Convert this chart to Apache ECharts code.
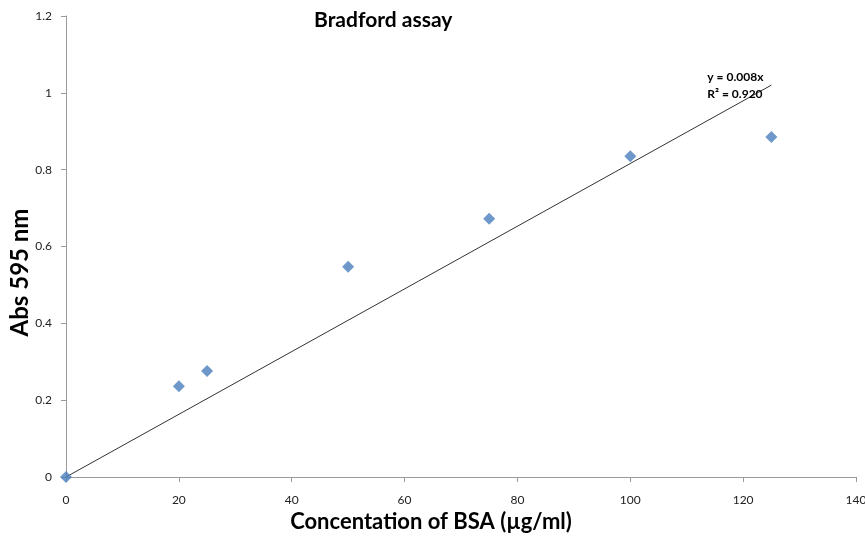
<!DOCTYPE html>
<html>
	<head>
		<meta charset="utf-8" />
		<script type="text/javascript" src="https://cdn.jsdelivr.net/npm/echarts@6/dist/echarts.min.js"></script>
		<title>Bradford assay</title>
	</head>
	<body style="margin:0">
		<div id="chartmain" style="width:865px; height:537px;"></div>
		<script type="text/javascript">
var concentration = [0, 20, 25, 50, 75, 100, 125];
var absorbance = [0, 0.236, 0.276, 0.547, 0.672, 0.835, 0.885];
// linear trendline through origin, drawn over the data range
var trendX = [0, 125];
var trendY = [0, 1.02];
var equationText = ['y = 0.008x', 'R\u00b2 = 0.920'];

var points = concentration.map(function (x, i) { return [x, absorbance[i]]; });
var trend = trendX.map(function (x, i) { return [x, trendY[i]]; });

var font = 'Lato, "Open Sans", sans-serif';

option = {
  backgroundColor: '#fff',
  animation: false,
  title: {
    text: 'Bradford assay',
    left: 309,
    top: 5,
    textStyle: { fontFamily: font, fontSize: 21, fontWeight: 'bold', color: '#000' }
  },
  grid: { left: 66, right: 9, top: 16, bottom: 60, outerBoundsMode: 'none', containLabel: false },
  xAxis: {
    type: 'value',
    min: 0,
    max: 140,
    interval: 20,
    name: 'Concentation of BSA (\u00b5g/ml)',
    nameLocation: 'middle',
    nameGap: 34,
    nameMoveOverlap: false,
    nameTextStyle: { fontFamily: font, fontSize: 22, fontWeight: 'bold', color: '#000', padding: [0, 60, 0, 0] },
    axisLine: { lineStyle: { color: '#9a9a9a' } },
    axisTick: { length: 5, lineStyle: { color: '#9a9a9a' } },
    axisLabel: { fontFamily: font, fontSize: 12, color: '#222', margin: 17 },
    splitLine: { show: false }
  },
  yAxis: {
    type: 'value',
    min: 0,
    max: 1.2,
    interval: 0.2,
    name: 'Abs 595 nm',
    nameLocation: 'middle',
    nameGap: 34,
    nameMoveOverlap: false,
    nameTextStyle: { fontFamily: font, fontSize: 24, fontWeight: 'bold', color: '#000', padding: [0, 52, 0, 0] },
    axisLine: { show: true, lineStyle: { color: '#9a9a9a' } },
    axisTick: { show: true, length: 5, lineStyle: { color: '#9a9a9a' } },
    axisLabel: { fontFamily: font, fontSize: 12, color: '#222', margin: 14 },
    splitLine: { show: false }
  },
  series: [
    {
      type: 'line',
      data: trend,
      showSymbol: false,
      symbol: 'none',
      lineStyle: { color: '#333', width: 1 },
      z: 1,
      endLabel: {
        show: true,
        formatter: equationText.join('\n'),
        fontFamily: font,
        fontSize: 12,
        fontWeight: 'bold',
        color: '#000',
        lineHeight: 17,
        offset: [-72, 0]
      }
    },
    {
      type: 'scatter',
      data: points,
      symbol: 'diamond',
      symbolSize: 12,
      itemStyle: { color: '#4a7ebb' },
      z: 3
    }
  ]
};
			var myChart = echarts.init(document.getElementById('chartmain'));
			myChart.setOption(option);
			window.addEventListener('resize', function () {
				myChart.resize()
			})
		</script>
	</body>
</html>
